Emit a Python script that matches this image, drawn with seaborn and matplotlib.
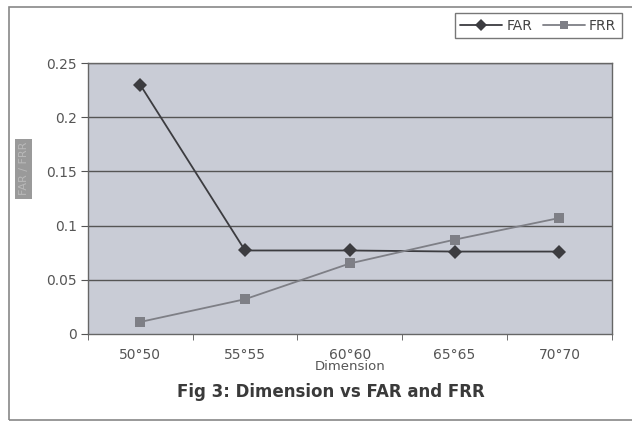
import pandas as pd
import numpy as np
import matplotlib
matplotlib.use('Agg')
import matplotlib.pyplot as plt
import seaborn as sns
from matplotlib.patches import Rectangle
from matplotlib.lines import Line2D

# dati
dimensions = ['50*50', '55*55', '60*60', '65*65', '70*70']
far = [0.230, 0.077, 0.077, 0.076, 0.076]
frr = [0.011, 0.032, 0.065, 0.087, 0.107]
y_ticks = [0, 0.05, 0.1, 0.15, 0.2, 0.25]
y_tick_labels = ['0', '0.05', '0.1', '0.15', '0.2', '0.25']

df = pd.DataFrame({
    'pos': list(range(len(dimensions))) * 2,
    'value': far + frr,
    'serie': ['FAR'] * len(far) + ['FRR'] * len(frr),
})

sns.set_style('white')
plt.rcParams['font.family'] = ['DejaVu Sans']

fig = plt.figure(figsize=(6.32, 4.21), dpi=100)
ax = fig.add_axes([0.139, 0.207, 0.829, 0.643])
ax.set_facecolor('#c9ccd6')

# griglia orizzontale
for t in y_ticks[1:]:
    ax.axhline(t, color='#555555', lw=1.0, zorder=1)

sns.lineplot(data=df, x='pos', y='value', hue='serie', style='serie',
             markers={'FAR': 'D', 'FRR': 's'}, dashes=False,
             palette={'FAR': '#3c3c40', 'FRR': '#7e7f86'},
             markersize=7, markeredgewidth=0, lw=1.3, ax=ax, legend=False, zorder=3)

ax.set_xlim(-0.5, len(dimensions) - 0.5)
ax.set_ylim(0, 0.25)
ax.set_yticks(y_ticks)
ax.set_yticklabels(y_tick_labels, color='#555555', fontsize=10)
ax.set_xticks(range(len(dimensions)))
ax.set_xticklabels([d.replace('*', '°') for d in dimensions], color='#555555', fontsize=10)
ax.tick_params(axis='x', length=0, pad=10)
ax.tick_params(axis='y', length=5, color='#555555', left=True, pad=3)
# tick sui confini delle categorie (stile Excel)
ax.set_xticks(np.arange(-0.5, len(dimensions) + 0.5, 1), minor=True)
ax.tick_params(axis='x', which='minor', length=4, bottom=True, color='#555555')

for s in ax.spines.values():
    s.set_color('#666666')
    s.set_linewidth(1.0)

ax.set_xlabel('Dimension', color='#555555', fontsize=9.5, labelpad=-1)
ax.set_ylabel('FAR / FRR', color='#b9b9b9', fontsize=8,
              bbox=dict(boxstyle='square,pad=0.3', facecolor='#9a9a9a', edgecolor='none'))
ax.yaxis.set_label_coords(-0.113, 0.61)

fig.text(0.523, 0.068, 'Fig 3: Dimension vs FAR and FRR', ha='center', va='center',
         fontsize=12, fontweight='bold', color='#3a3a3a')

# legenda in alto a destra
handles = [Line2D([], [], color='#3c3c40', marker='D', markersize=6, mew=0, lw=1.3),
           Line2D([], [], color='#7e7f86', marker='s', markersize=6, mew=0, lw=1.3)]
leg = fig.legend(handles, ['FAR', 'FRR'], loc='upper right', bbox_to_anchor=(0.995, 0.985),
                 ncol=2, frameon=True, fancybox=False, fontsize=10, handlelength=3,
                 columnspacing=0.8, handletextpad=0.3, borderpad=0.4)
leg.get_frame().set_edgecolor('#555555')
leg.get_frame().set_linewidth(1.0)
for t in leg.get_texts():
    t.set_color('#444444')

# cornice esterna
fig.patches.append(Rectangle((9 / 632, 1 / 421), 1.0, 1 - 8 / 421, transform=fig.transFigure,
                             fill=False, edgecolor='#888888', lw=1.2))

fig.savefig('out.png', dpi=100)
